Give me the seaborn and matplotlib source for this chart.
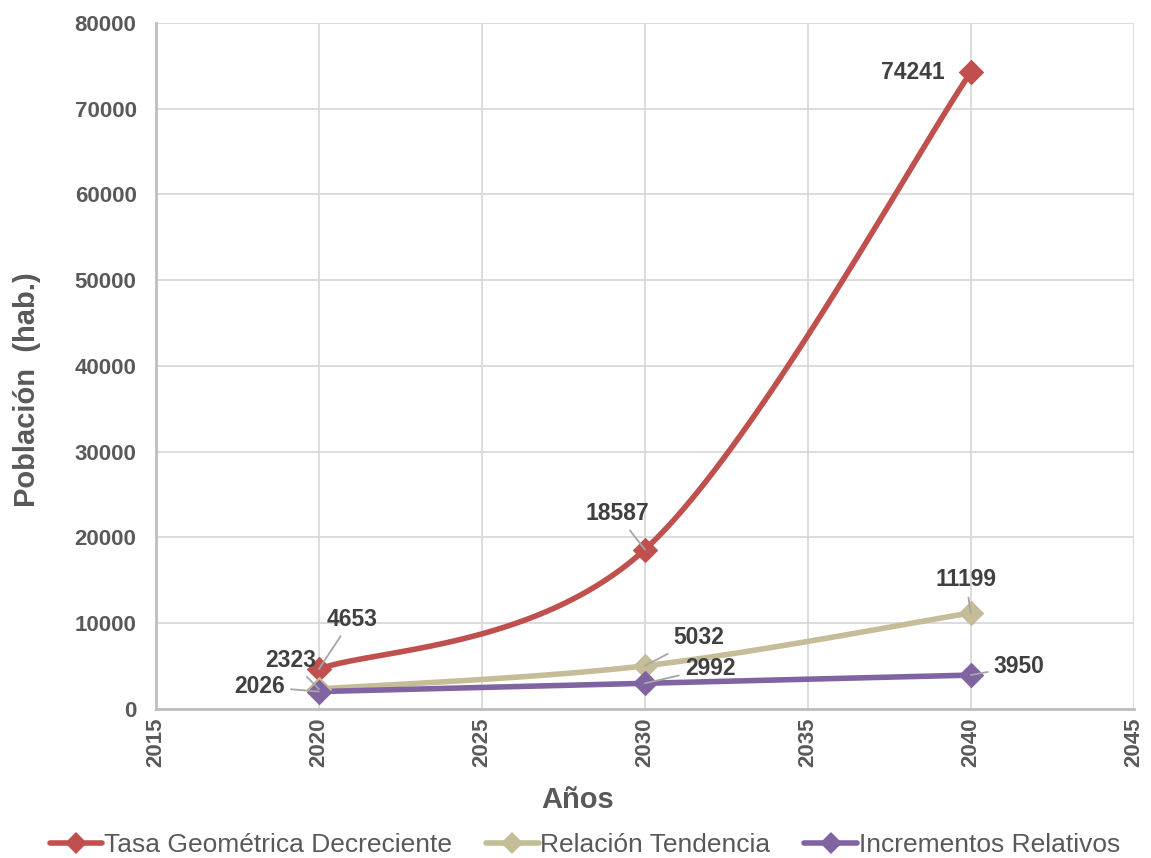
import numpy as np
import pandas as pd
import matplotlib
matplotlib.use("Agg")
import matplotlib.pyplot as plt
from matplotlib.lines import Line2D
import seaborn as sns

# Projection years and population series (hab.)
years = [2020, 2030, 2040]
tasa_geometrica = [4653, 18587, 74241]
relacion_tendencia = [2323, 5032, 11199]
incrementos_relativos = [2026, 2992, 3950]

series_names = ["Tasa Geométrica Decreciente", "Relación Tendencia", "Incrementos Relativos"]
series_values = [tasa_geometrica, relacion_tendencia, incrementos_relativos]
series_colors = ["#C0504D", "#C4BD97", "#8064A2"]

x_ticks = [2015, 2020, 2025, 2030, 2035, 2040, 2045]
y_ticks = [0, 10000, 20000, 30000, 40000, 50000, 60000, 70000, 80000]

# label offsets in pixels (dx, dy, ha, leader line) for each series/point
label_offsets = [
    [(33, 50, "center", True), (-28, 36, "center", True), (-26, 0, "right", False)],
    [(-3, 29, "right", True), (28, 28, "left", True), (-5, 33, "center", True)],
    [(-34, 5, "right", True), (40, 15, "left", True), (23, 9, "left", True)],
]


def smooth_curve(xs, ys, n=60):
    """Piecewise cubic Bezier smoothing (Catmull-Rom style control points)."""
    xs = np.asarray(xs, float)
    ys = np.asarray(ys, float)
    px = np.concatenate([[xs[0]], xs, [xs[-1]]])
    py = np.concatenate([[ys[0]], ys, [ys[-1]]])
    out_x, out_y = [], []
    t = np.linspace(0, 1, n)
    for i in range(1, len(px) - 2):
        p0 = np.array([px[i], py[i]])
        p3 = np.array([px[i + 1], py[i + 1]])
        c1 = p0 + (np.array([px[i + 1], py[i + 1]]) - np.array([px[i - 1], py[i - 1]])) / 6
        c2 = p3 - (np.array([px[i + 2], py[i + 2]]) - np.array([px[i], py[i]])) / 6
        b = ((1 - t) ** 3)[:, None] * p0 + (3 * (1 - t) ** 2 * t)[:, None] * c1 \
            + (3 * (1 - t) * t ** 2)[:, None] * c2 + (t ** 3)[:, None] * p3
        out_x.extend(b[:, 0])
        out_y.extend(b[:, 1])
    return np.array(out_x), np.array(out_y)


sns.set_style("white")
plt.rcParams["font.family"] = ["Liberation Sans", "DejaVu Sans"]

fig = plt.figure(figsize=(11.51, 8.58), dpi=100)
ax = fig.add_axes([0.1355, 0.1737, 0.8495, 0.7995])

grid_color = "#D9D9D9"
text_grey = "#595959"
label_dark = "#404040"

for name, vals, color in zip(series_names, series_values, series_colors):
    sx, sy = smooth_curve(years, vals)
    curve = pd.DataFrame({"x": sx, "y": sy})
    sns.lineplot(data=curve, x="x", y="y", ax=ax, color=color, lw=4.0,
                 sort=False, estimator=None, zorder=3, solid_capstyle="round")
    pts = pd.DataFrame({"x": years, "y": vals})
    sns.scatterplot(data=pts, x="x", y="y", ax=ax, color=color, marker="D",
                    s=170, edgecolor=color, linewidth=0, zorder=4)

ax.set_xlim(2015, 2045)
ax.set_ylim(0, 80000)
ax.set_xticks(x_ticks)
ax.set_yticks(y_ticks)
ax.set_xticklabels([str(v) for v in x_ticks], rotation=90)
ax.set_yticklabels([str(v) for v in y_ticks])
ax.tick_params(axis="both", length=0, labelsize=16, labelcolor=text_grey)
for lab in ax.get_xticklabels() + ax.get_yticklabels():
    lab.set_fontweight("bold")
ax.tick_params(axis="x", pad=6)
ax.tick_params(axis="y", pad=14)

ax.grid(True, color=grid_color, lw=1.3, zorder=0)
ax.set_axisbelow(True)
for side in ["top", "right"]:
    ax.spines[side].set_visible(False)
for side in ["left", "bottom"]:
    ax.spines[side].set_color("#BFBFBF")
    ax.spines[side].set_linewidth(2)

ax.set_xlabel("Años", fontsize=21, fontweight="bold", color=text_grey)
ax.xaxis.set_label_coords(0.431, -0.113)
ax.set_ylabel("Población  (hab.)", fontsize=21, fontweight="bold", color=text_grey)
ax.yaxis.set_label_coords(-0.118, 0.465)

# data labels with leader lines
for vals, offs in zip(series_values, label_offsets):
    for x, v, (dx, dy, ha, leader) in zip(years, vals, offs):
        arrow = dict(arrowstyle="-", color="#A6A6A6", lw=1.3, shrinkA=2, shrinkB=0) if leader else None
        ax.annotate(str(v), xy=(x, v), xytext=(dx, dy), textcoords="offset pixels",
                    ha=ha, va="center", fontsize=16.5, fontweight="bold", color=label_dark,
                    zorder=6, arrowprops=arrow)

handles = [Line2D([0], [0], color=c, lw=4.0, marker="D", markersize=11,
                  markeredgewidth=0) for c in series_colors]
leg = fig.legend(handles, series_names, loc="center", bbox_to_anchor=(0.508, 0.015),
                 ncol=3, frameon=False, fontsize=19, handlelength=2.0,
                 handletextpad=0.05, columnspacing=1.3, borderaxespad=0)
for t in leg.get_texts():
    t.set_color(text_grey)

fig.savefig("out.png", dpi=100)
